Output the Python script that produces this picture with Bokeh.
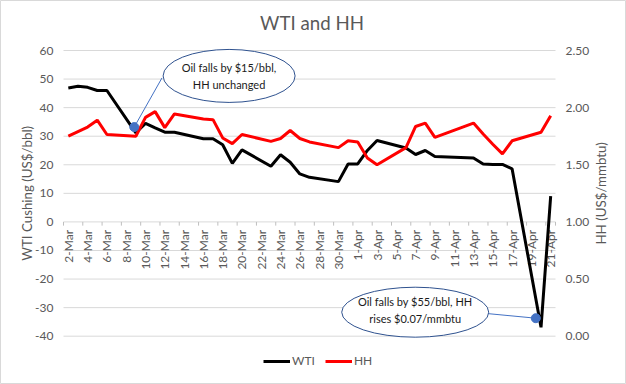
import math
import pandas as pd
from bokeh.plotting import figure
from bokeh.models import Range1d, Legend, LegendItem
from bokeh.core.properties import value
from bokeh.embed import file_html
from bokeh.resources import INLINE

# ---------------- data ----------------
dates = ["2020-03-02", "2020-03-03", "2020-03-04", "2020-03-05", "2020-03-06",
         "2020-03-09", "2020-03-10", "2020-03-11", "2020-03-12", "2020-03-13",
         "2020-03-16", "2020-03-17", "2020-03-18", "2020-03-19", "2020-03-20",
         "2020-03-23", "2020-03-24", "2020-03-25", "2020-03-26", "2020-03-27",
         "2020-03-30", "2020-03-31", "2020-04-01", "2020-04-02", "2020-04-03",
         "2020-04-06", "2020-04-07", "2020-04-08", "2020-04-09",
         "2020-04-13", "2020-04-14", "2020-04-15", "2020-04-16", "2020-04-17",
         "2020-04-20", "2020-04-21"]
wti = [46.9, 47.5, 47.1, 46.0, 46.0,
       31.2, 34.5, 32.9, 31.4, 31.4,
       29.1, 29.1, 27.0, 20.5, 25.2,
       19.5, 23.5, 20.9, 16.8, 15.6,
       14.1, 20.3, 20.3, 25.0, 28.5,
       25.9, 23.6, 25.0, 22.9,
       22.4, 20.3, 20.1, 20.1, 18.6,
       -36.9, 9.0]
hh = [1.75, 1.79, 1.83, 1.89, 1.765,
      1.75, 1.915, 1.965, 1.825, 1.945,
      1.90, 1.895, 1.735, 1.685, 1.765,
      1.705, 1.73, 1.80, 1.73, 1.70,
      1.65, 1.71, 1.70, 1.56, 1.50,
      1.65, 1.835, 1.865, 1.74,
      1.865, 1.77, 1.68, 1.595, 1.71,
      1.785, 1.93]

date_tick_labels = ["2-Mar", "4-Mar", "6-Mar", "8-Mar", "10-Mar", "12-Mar", "14-Mar",
                    "16-Mar", "18-Mar", "20-Mar", "22-Mar", "24-Mar", "26-Mar",
                    "28-Mar", "30-Mar", "1-Apr", "3-Apr", "5-Apr", "7-Apr", "9-Apr",
                    "11-Apr", "13-Apr", "15-Apr", "17-Apr", "19-Apr", "21-Apr"]
wti_ticks = [-40, -30, -20, -10, 0, 10, 20, 30, 40, 50, 60]
wti_tick_labels = ["-40", "-30", "-20", "-10", "0", "10", "20", "30", "40", "50", "60"]
hh_ticks = [0.0, 0.5, 1.0, 1.5, 2.0, 2.5]
hh_tick_labels = ["0.00", "0.50", "1.00", "1.50", "2.00", "2.50"]

title_text = "WTI and HH"
left_title = "WTI Cushing (US$/bbl)"
right_title = "HH (US$/mmbtu)"

# annotations
ann_dot_x = ["2020-03-08 20:00", "2020-04-19 11:00"]
ann_dot_y = [33.2, -33.7]
ann_end_x = ["2020-03-11 17:00", "2020-04-14 12:00"]
ann_end_y = [50.4, -32.1]
ann_box_x = ["2020-03-18 16:00", "2020-04-06 23:00"]
ann_box_y = [51.1, -31.6]
ann_text = ["Oil falls by $15/bbl,\nHH unchanged", "Oil falls by $55/bbl, HH\nrises $0.07/mmbtu"]

# ---------------- layout ----------------
W, H = 626, 384
PLOT_LEFT, PLOT_TOP = 63, 50      # plot area position inside the chart
PLOT_W, PLOT_H = 492, 285.7       # plot area size
FONT = "Lato"
GREY = "#595959"
GRID = "#D9D9D9"

x = pd.to_datetime(dates)
lab_x = pd.to_datetime([s + "-2020" for s in date_tick_labels], format="%d-%b-%Y")
half = pd.Timedelta(hours=12)
x_start = x[0] - half
x_end = x[-1] + half
span = x_end - x_start
x_range = Range1d(x_start - span * (PLOT_LEFT / PLOT_W),
                  x_start + span * ((W - PLOT_LEFT) / PLOT_W))
y_lo, y_hi = wti_ticks[0], wti_ticks[-1]
ppu = PLOT_H / (y_hi - y_lo)
y_bottom = y_lo - (H - PLOT_TOP - PLOT_H) / ppu
y_top = y_hi + PLOT_TOP / ppu
hh_lo, hh_hi = hh_ticks[0], hh_ticks[-1]
hh_scale = (hh_hi - hh_lo) / (y_hi - y_lo)
hh_range = Range1d(hh_lo + (y_bottom - y_lo) * hh_scale, hh_lo + (y_top - y_lo) * hh_scale)
tick_x = list(lab_x - half) + [x_end]

p = figure(width=W, height=H, x_axis_type="datetime", x_axis_location=None, y_axis_location=None,
           x_range=x_range, y_range=Range1d(y_bottom, y_top),
           output_backend="svg", toolbar_location=None,
           min_border_left=0, min_border_right=0, min_border_top=0, min_border_bottom=0)
p.outline_line_color = GRID          # chart border
p.background_fill_color = "white"
p.border_fill_color = "white"
p.grid.visible = False
p.extra_y_ranges = {"hh": hh_range}

# title
p.text(x=[x_start], y=[y_hi], text=[title_text], x_offset=248.5, y_offset=-27.3,
       text_align="center", text_baseline="middle",
       text_font=value(FONT), text_font_size="18.7px", text_color=GREY)

# horizontal gridlines across the plot area
p.segment(x0=[x_start] * len(wti_ticks), y0=wti_ticks, x1=[x_end] * len(wti_ticks), y1=wti_ticks,
          line_color=GRID, line_width=1)

# left value axis
p.text(x=[x_start] * len(wti_ticks), y=wti_ticks, text=wti_tick_labels,
       x_offset=-10, text_align="right", text_baseline="middle",
       text_font=value(FONT), text_font_size="12px", text_color=GREY)
p.text(x=[x_start], y=[(y_lo + y_hi) / 2], text=[left_title],
       x_offset=-36.5, angle=math.pi / 2, text_align="center", text_baseline="middle",
       text_font=value(FONT), text_font_size="13.3px", text_color=GREY)

# right value axis
p.text(x=[x_end] * len(hh_ticks), y=hh_ticks, text=hh_tick_labels, y_range_name="hh",
       x_offset=10, text_align="left", text_baseline="middle",
       text_font=value(FONT), text_font_size="12px", text_color=GREY)
p.text(x=[x_end], y=[(hh_lo + hh_hi) / 2], text=[right_title], y_range_name="hh",
       x_offset=45, angle=math.pi / 2, text_align="center", text_baseline="middle",
       text_font=value(FONT), text_font_size="13.3px", text_color=GREY)

# date axis drawn at y = 0
p.segment(x0=tick_x, y0=[0] * len(tick_x), x1=tick_x, y1=[-1.3] * len(tick_x),
          line_color="#BFBFBF", line_width=1)
p.text(x=list(lab_x), y=[0] * len(lab_x), text=date_tick_labels, angle=math.pi / 2,
       text_align="right", text_baseline="middle", y_offset=8,
       text_font=value(FONT), text_font_size="12px", text_color=GREY)

# series
r_wti = p.line(x, wti, line_color="black", line_width=3)
r_hh = p.line(x, hh, y_range_name="hh", line_color="#FF0000", line_width=3)

# annotations
p.segment(x0=pd.to_datetime(ann_dot_x), y0=ann_dot_y, x1=pd.to_datetime(ann_end_x), y1=ann_end_y,
          line_color="#4472C4", line_width=1)
p.scatter(pd.to_datetime(ann_dot_x), ann_dot_y, size=9, fill_color="#4472C4", line_color="#4472C4")
p.ellipse(x=pd.to_datetime(ann_box_x), y=ann_box_y, width=[132, 147], height=[53, 50],
          width_units="screen", height_units="screen",
          fill_color="white", line_color="#2F528F", line_width=1)
p.text(x=pd.to_datetime(ann_box_x[:1]), y=ann_box_y[:1], text=ann_text[:1],
       text_align="center", text_baseline="middle", y_offset=0,
       text_font=value(FONT), text_font_size="11px", text_color="#1A1A1A", text_line_height=1.35)
p.text(x=pd.to_datetime(ann_box_x[1:]), y=ann_box_y[1:], text=ann_text[1:],
       text_align="center", text_baseline="middle", y_offset=-2,
       text_font=value(FONT), text_font_size="11px", text_color="#1A1A1A", text_line_height=1.35)

legend = Legend(items=[LegendItem(label="WTI", renderers=[r_wti]),
                       LegendItem(label="HH", renderers=[r_hh])],
                orientation="horizontal", location=(263, 16),
                label_text_font=FONT, label_text_font_size="12px", label_text_color=GREY,
                glyph_width=27, glyph_height=12, label_height=12, label_standoff=2, spacing=10,
                padding=0, margin=0, border_line_color=None, background_fill_alpha=0)
p.add_layout(legend, "center")

open("out.html", "w").write(file_html(p, INLINE))
